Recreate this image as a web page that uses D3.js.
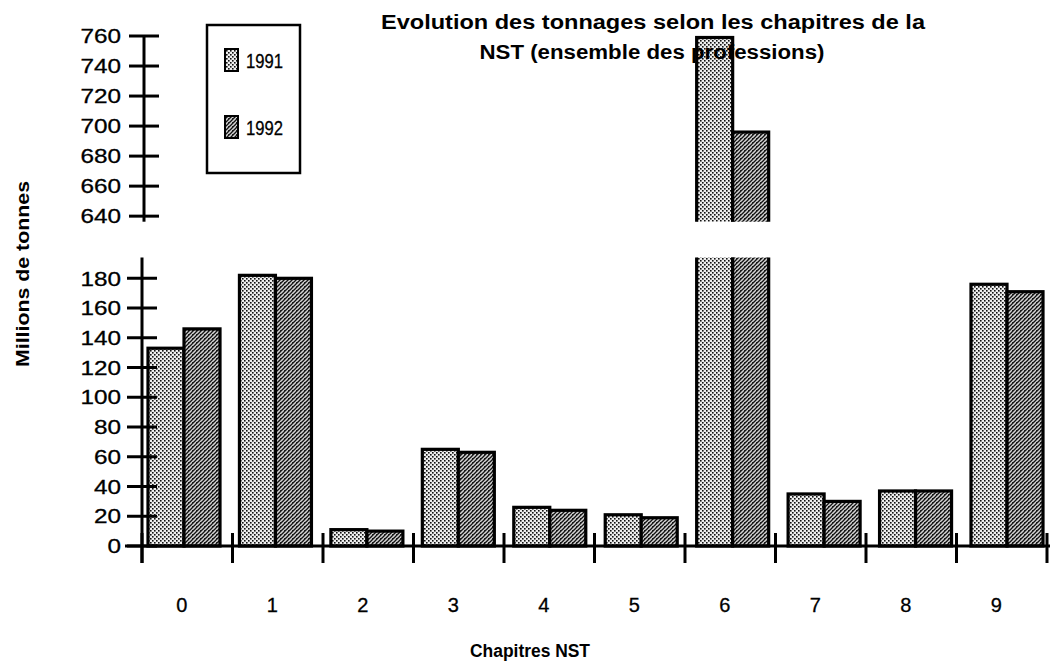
<!DOCTYPE html>
<html><head><meta charset="utf-8">
<script src="https://cdn.jsdelivr.net/npm/d3@7"></script>
<style>
html,body{margin:0;padding:0;background:#fff;}
svg{display:block;font-family:"Liberation Sans",Arial,Helvetica,sans-serif;}
</style></head>
<body>
<svg id="chart" width="1062" height="663"></svg>
<script>
const categories = ["0","1","2","3","4","5","6","7","8","9"];
const seriesNames = ["1991","1992"];
const values1991 = [133, 182, 11, 65, 26, 21, 759, 35, 37, 176];
const values1992 = [146, 180, 10, 63, 24, 19, 696, 30, 37, 171];
const lowerTicks = [0,20,40,60,80,100,120,140,160,180,200];
const upperTicks = [640,660,680,700,720,740,760];
const titleLines = ["Evolution des tonnages selon les chapitres de la","NST (ensemble des professions)"];
const xTitle = "Chapitres NST";
const yTitle = "Millions de tonnes";

const svg = d3.select("#chart");
const defs = svg.append("defs");

// patterns
const p1 = defs.append("pattern").attr("id","pat1991").attr("patternUnits","userSpaceOnUse")
  .attr("width",4).attr("height",4);
p1.append("rect").attr("width",4).attr("height",4).attr("fill","#eeeeee");
p1.append("rect").attr("x",0).attr("y",0).attr("width",1.6).attr("height",1.6).attr("fill","#111");
p1.append("rect").attr("x",2).attr("y",2).attr("width",1.6).attr("height",1.6).attr("fill","#111");

const p2 = defs.append("pattern").attr("id","pat1992").attr("patternUnits","userSpaceOnUse")
  .attr("width",4).attr("height",4);
p2.append("rect").attr("width",4).attr("height",4).attr("fill","#d4d4d4");
p2.append("path").attr("d","M-1,1 L1,-1 M0,4 L4,0 M3,5 L5,3").attr("stroke","#111").attr("stroke-width",1.3);
p2.append("rect").attr("x",0).attr("y",2).attr("width",1.2).attr("height",1.2).attr("fill","#222");

const fills = {"1991":"url(#pat1991)","1992":"url(#pat1992)"};

// scales
const yL = d3.scaleLinear().domain([0,194]).range([546,257.5]);
const yU = d3.scaleLinear().domain([636.3,760]).range([221.7,36]);
const xTick = d3.scaleBand().domain(categories).range([142,1047]).padding(0);
const xBar = d3.scaleBand().domain(categories).range([148,1043]).paddingInner(0.2126).paddingOuter(0);
const xSub = d3.scaleBand().domain(seriesNames).range([0,xBar.bandwidth()]);

defs.append("clipPath").attr("id","clipU").append("rect").attr("x",0).attr("y",0).attr("width",1062).attr("height",yU.range()[0]);
defs.append("clipPath").attr("id","clipL").append("rect").attr("x",0).attr("y",yL.range()[1]).attr("width",1062).attr("height",663);

const data = [];
categories.forEach((c,i)=>{
  data.push({cat:c, s:"1991", v:values1991[i]});
  data.push({cat:c, s:"1992", v:values1992[i]});
});

// lower bars
svg.append("g").attr("clip-path","url(#clipL)")
  .selectAll("rect").data(data).join("rect")
  .attr("x",d=>xBar(d.cat)+xSub(d.s))
  .attr("width",xSub.bandwidth())
  .attr("y",d=>yL(d.v))
  .attr("height",d=>yL(0)-yL(d.v))
  .attr("fill",d=>fills[d.s])
  .attr("stroke","#000").attr("stroke-width",3.2);

// upper bars
svg.append("g").attr("clip-path","url(#clipU)")
  .selectAll("rect").data(data.filter(d=>d.v>yU.domain()[0])).join("rect")
  .attr("x",d=>xBar(d.cat)+xSub(d.s))
  .attr("width",xSub.bandwidth())
  .attr("y",d=>yU(d.v))
  .attr("height",d=>yU(600)-yU(d.v))
  .attr("fill",d=>fills[d.s])
  .attr("stroke","#000").attr("stroke-width",3.2);

// y axes
function drawY(scale, ticks, ax, clip){
  const g = svg.append("g");
  if(clip) g.attr("clip-path",clip);
  const r = scale.range();
  g.append("line").attr("x1",ax).attr("x2",ax).attr("y1",r[1]-1).attr("y2",r[0]+ (scale===yL?17:0))
    .attr("stroke","#000").attr("stroke-width",3);
  g.selectAll("line.t").data(ticks).join("line").attr("class","t")
    .attr("x1",ax-15).attr("x2",ax+15).attr("y1",d=>scale(d)).attr("y2",d=>scale(d))
    .attr("stroke","#000").attr("stroke-width",3);
  g.selectAll("text").data(ticks).join("text")
    .attr("x",121).attr("y",d=>scale(d)).attr("dy","0.36em")
    .attr("text-anchor","end").attr("font-size",20)
    .attr("stroke","#000").attr("stroke-width",0.3)
    .attr("textLength",d=>String(d).length*13.5).attr("lengthAdjust","spacingAndGlyphs")
    .text(d=>d);
}
drawY(yU, upperTicks, 144, null);
drawY(yL, lowerTicks, 142, "url(#clipL)");

// x axis
svg.append("line").attr("x1",125).attr("x2",1050).attr("y1",546).attr("y2",546)
  .attr("stroke","#000").attr("stroke-width",3);
const bounds = categories.map(c=>xTick(c)).concat([xTick.range()[1]]);
svg.selectAll("line.xt").data(bounds).join("line").attr("class","xt")
  .attr("x1",d=>d).attr("x2",d=>d).attr("y1",533).attr("y2",563)
  .attr("stroke","#000").attr("stroke-width",3);
svg.selectAll("text.xl").data(categories).join("text").attr("class","xl")
  .attr("x",d=>xTick(d)+xTick.bandwidth()*0.44).attr("y",612)
  .attr("text-anchor","middle").attr("font-size",20)
  .attr("stroke","#000").attr("stroke-width",0.3).text(d=>d);

// titles
svg.append("text").attr("x",653).attr("y",29).attr("text-anchor","middle")
  .attr("font-size",20).attr("font-weight","bold")
  .attr("textLength",544).attr("lengthAdjust","spacingAndGlyphs").text(titleLines[0]);
svg.append("text").attr("x",652).attr("y",59).attr("text-anchor","middle")
  .attr("font-size",20).attr("font-weight","bold")
  .attr("textLength",345).attr("lengthAdjust","spacingAndGlyphs").text(titleLines[1]);
svg.append("text").attr("x",530).attr("y",657).attr("text-anchor","middle")
  .attr("font-size",18).attr("font-weight","bold")
  .attr("textLength",120).attr("lengthAdjust","spacingAndGlyphs").text(xTitle);
svg.append("text").attr("transform","translate(29,274) rotate(-90)").attr("text-anchor","middle")
  .attr("font-size",19).attr("font-weight","bold")
  .attr("textLength",186).attr("lengthAdjust","spacingAndGlyphs").text(yTitle);

// legend
const lg = svg.append("g");
lg.append("rect").attr("x",207).attr("y",25).attr("width",93).attr("height",148)
  .attr("fill","#fff").attr("stroke","#000").attr("stroke-width",2.5);
const legY = {"1991":60,"1992":127};
seriesNames.forEach(s=>{
  lg.append("rect").attr("x",225).attr("y",legY[s]-11).attr("width",13).attr("height",22)
    .attr("fill",fills[s]).attr("stroke","#000").attr("stroke-width",2);
  lg.append("text").attr("x",246).attr("y",legY[s]).attr("dy","0.36em").attr("font-size",21)
    .attr("stroke","#000").attr("stroke-width",0.3)
    .attr("textLength",37).attr("lengthAdjust","spacingAndGlyphs").text(s);
});
</script>
</body></html>
